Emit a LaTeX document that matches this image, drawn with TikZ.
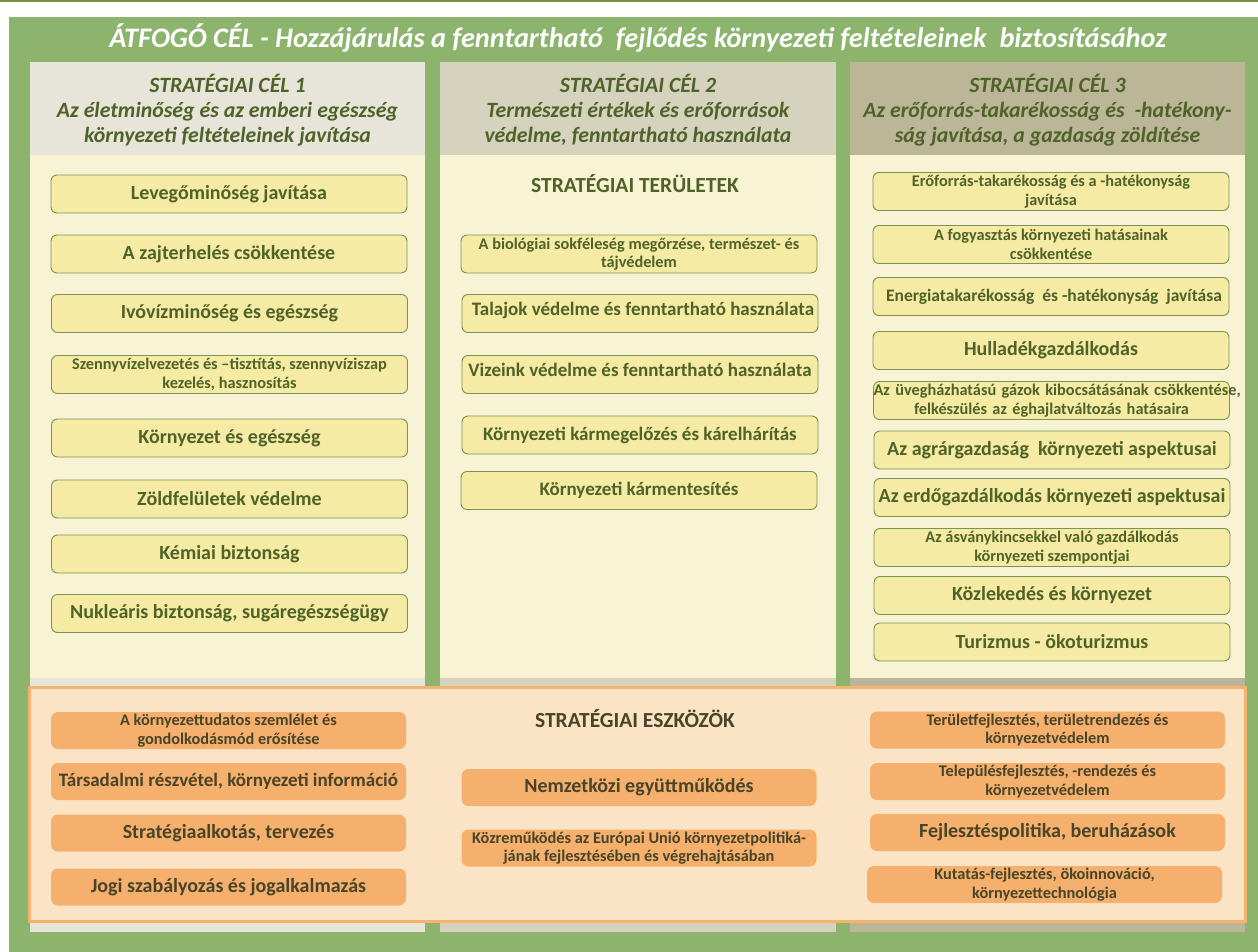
\documentclass[tikz,border=0pt]{standalone}
\usepackage{fontspec}
\setmainfont{Carlito}
\definecolor{bggreen}{HTML}{8CB46C}
\definecolor{topline}{HTML}{77933C}
\definecolor{hdrA}{HTML}{E7E5DA}
\definecolor{hdrB}{HTML}{D5D2BE}
\definecolor{hdrC}{HTML}{BBB698}
\definecolor{cream}{HTML}{F8F3D4}
\definecolor{yfill}{HTML}{F5EBA4}
\definecolor{ydraw}{HTML}{7A9452}
\definecolor{gtext}{HTML}{4F6228}
\definecolor{oframe}{HTML}{F4B36F}
\definecolor{opeach}{HTML}{FBE4C5}
\definecolor{ofill}{HTML}{F4B06C}
\definecolor{otext}{HTML}{494429}
\newcommand{\fsBig}{\fontsize{20}{22}\selectfont}
\newcommand{\fsMid}{\fontsize{19}{22}\selectfont}
\newcommand{\fsMidS}{\fontsize{17.5}{20}\selectfont}
\newcommand{\fsSmall}{\fontsize{16.3}{18.5}\selectfont}
\tikzset{
  ybox/.style={draw=ydraw, line width=0.9pt, fill=yfill, rounded corners=6pt,
    minimum width=356pt, minimum height=38pt, inner sep=0pt, align=center,
    text=gtext, font=\bfseries\fsBig},
  obox/.style={fill=ofill, rounded corners=7pt, minimum width=355pt,
    minimum height=37pt, inner sep=0pt, align=center, text=otext,
    font=\bfseries\fsBig},
  raised/.style={text height=13pt, text depth=10pt},
  hdrtext/.style={align=center, text=gtext, font=\bfseries\itshape\fontsize{21.8}{25}\selectfont},
  sectitle/.style={font=\bfseries\fontsize{21.5}{24}\selectfont}
}
\begin{document}
\begin{tikzpicture}[x=1pt,y=-1pt]
\useasboundingbox (0,0) rectangle (1258,952);
\fill[white] (0,0) rectangle (1258,952);
\fill[topline] (0,0) rectangle (1258,2.5);
\fill[bggreen] (9,17) rectangle (1258,952);
\node[text=white, font=\bfseries\itshape\fontsize{28.3}{32}\selectfont] (title) at (638,38)
  {ÁTFOGÓ CÉL - Hozzájárulás a fenntartható~ fejlődés környezeti feltételeinek~ biztosításához};
% columns
\fill[hdrA] (30,62) rectangle (425,932);
\fill[hdrB] (440,62) rectangle (836,932);
\fill[hdrC] (850,62) rectangle (1245,932);
\fill[cream] (30,155) rectangle (425,678);
\fill[cream] (440,155) rectangle (836,678);
\fill[cream] (850,155) rectangle (1245,678);
\node[hdrtext] (h1) at (227.5,110) {STRATÉGIAI CÉL 1\\Az életminőség és az emberi egészség\\környezeti feltételeinek javítása};
\node[hdrtext] (h2) at (638,110) {STRATÉGIAI CÉL 2\\Természeti értékek és erőforrások\\védelme, fenntartható használata};
\node[hdrtext] (h3) at (1047.5,110) {STRATÉGIAI CÉL 3\\Az erőforrás-takarékosság és~ -hatékony-\\ság javítása, a gazdaság zöldítése};
% column 1
\node[ybox] (c1a) at (229,194) {Levegőminőség javítása};
\node[ybox] (c1b) at (229,254) {A zajterhelés csökkentése};
\node[ybox] (c1c) at (229.5,313.5) {Ivóvízminőség és egészség};
\node[ybox, font=\bfseries\fsSmall] (c1d) at (229.5,374.5) {Szennyvízelvezetés és –tisztítás, szennyvíziszap\\kezelés, hasznosítás};
\node[ybox] (c1e) at (229.5,438) {Környezet és egészség};
\node[ybox] (c1f) at (229.5,499) {Zöldfelületek védelme};
\node[ybox] (c1g) at (229.5,554) {Kémiai biztonság};
\node[ybox] (c1h) at (229.5,613.5) {Nukleáris biztonság, sugáregészségügy};
% column 2
\node[sectitle, text=gtext] (t2) at (635,184) {STRATÉGIAI TERÜLETEK};
\node[ybox, font=\bfseries\fsSmall] (c2a) at (639,254) {A biológiai sokféleség megőrzése, természet- és\\tájvédelem};
\node[ybox, raised, font=\bfseries\fsMid] (c2b) at (640,313.5) {\hspace*{6pt}Talajok védelme és fenntartható használata};
\node[ybox, raised, font=\bfseries\fsMid] (c2c) at (640,374.5) {Vizeink védelme és fenntartható használata};
\node[ybox, font=\bfseries\fsMid] (c2d) at (640,435) {Környezeti kármegelőzés és kárelhárítás};
\node[ybox, font=\bfseries\fsMid] (c2e) at (639,490.5) {Környezeti kármentesítés};
% column 3
\node[ybox, font=\bfseries\fsSmall] (c3a) at (1051,191.5) {Erőforrás-takarékosság és a -hatékonyság\\javítása};
\node[ybox, font=\bfseries\fsSmall] (c3b) at (1051,244.5) {A fogyasztás környezeti hatásainak\\csökkentése};
\node[ybox, font=\bfseries\fsMidS] (c3c) at (1051,296.5) {\hspace*{6pt}Energiatakarékosság~ és -hatékonyság~ javítása};
\node[ybox] (c3d) at (1051,350.5) {Hulladékgazdálkodás};
\node[ybox, font=\bfseries\fsSmall, text width=356pt] (c3e) at (1051.5,400.5) {\mbox{Az üvegházhatású gázok kibocsátásának csökkentése,}\\\mbox{felkészülés az éghajlatváltozás hatásaira}};
\node[ybox] (c3f) at (1052,450) {Az agrárgazdaság~ környezeti aspektusai};
\node[ybox] (c3g) at (1052,497.5) {Az erdőgazdálkodás környezeti aspektusai};
\node[ybox, font=\bfseries\fsSmall] (c3h) at (1052,547.5) {Az ásványkincsekkel való gazdálkodás\\környezeti szempontjai};
\node[ybox] (c3i) at (1052,595.5) {Közlekedés és környezet};
\node[ybox] (c3j) at (1052,642) {Turizmus - ökoturizmus};
% tools frame
\node[draw=oframe, line width=3pt, fill=opeach, minimum width=1216pt, minimum height=234pt, inner sep=0pt] (tools) at (637,804) {};
\node[sectitle, text=otext] (t4) at (635,719) {STRATÉGIAI ESZKÖZÖK};
\node[obox, font=\bfseries\fsSmall] (o1a) at (228.5,730.5) {A környezettudatos szemlélet és\\gondolkodásmód erősítése};
\node[obox, font=\bfseries\fsMid] (o1b) at (228.5,781.5) {Társadalmi részvétel, környezeti információ};
\node[obox] (o1c) at (228.5,833) {Stratégiaalkotás, tervezés};
\node[obox] (o1d) at (228.5,887) {Jogi szabályozás és jogalkalmazás};
\node[obox] (o2a) at (639,787.5) {Nemzetközi együttműködés};
\node[obox, font=\bfseries\fsSmall] (o2b) at (639,848) {Közreműködés az Európai Unió környezetpolitiká-\\jának fejlesztésében és végrehajtásában};
\node[obox, font=\bfseries\fsSmall] (o3a) at (1047.5,730) {Területfejlesztés, területrendezés és\\környezetvédelem};
\node[obox, font=\bfseries\fsSmall] (o3b) at (1047.5,781.5) {Településfejlesztés, -rendezés és\\környezetvédelem};
\node[obox] (o3c) at (1047.5,832.5) {Fejlesztéspolitika, beruházások};
\node[obox, font=\bfseries\fsSmall] (o3d) at (1044.5,884.5) {Kutatás-fejlesztés, ökoinnováció,\\környezettechnológia};
\end{tikzpicture}
\end{document}
